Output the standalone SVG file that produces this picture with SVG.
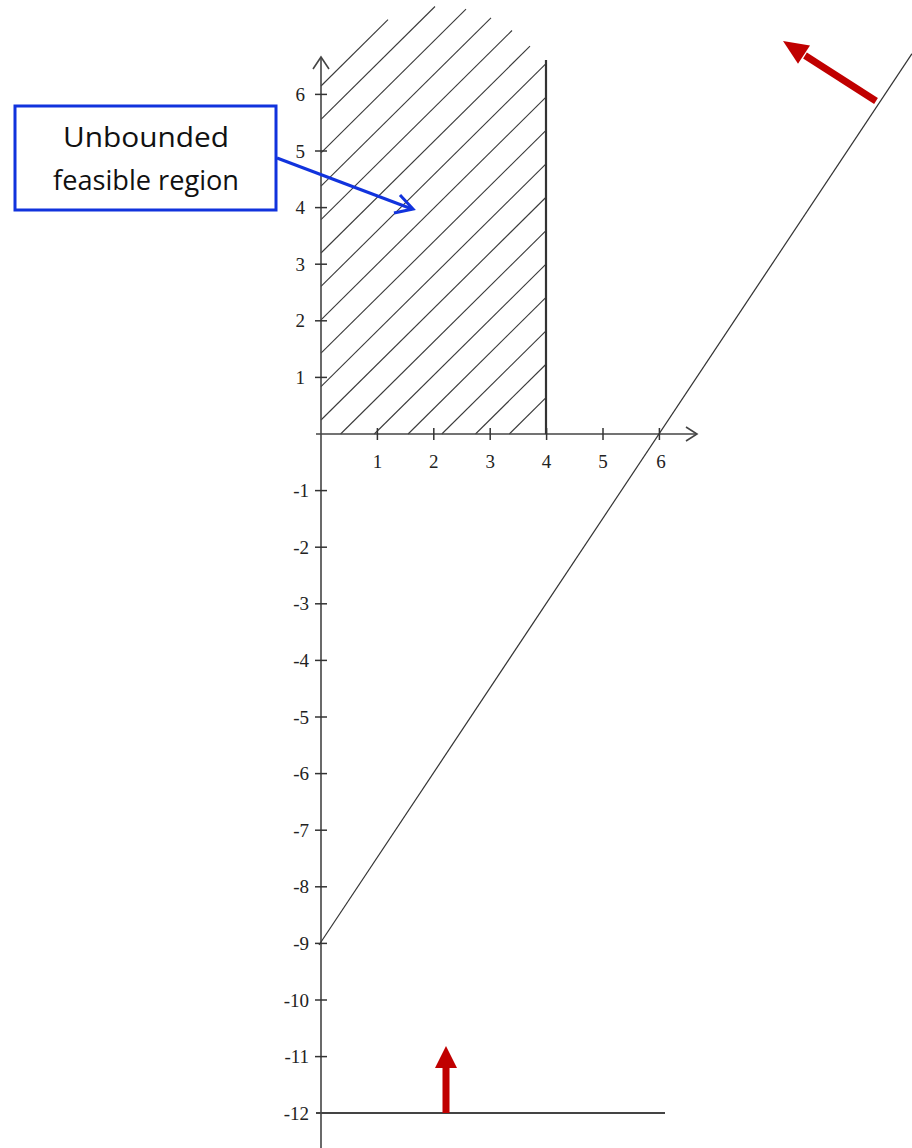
<svg xmlns="http://www.w3.org/2000/svg" width="912" height="1148" viewBox="0 0 912 1148">
<style>
.ax{stroke:#444;stroke-width:1.6;fill:none}
.tk{stroke:#333;stroke-width:1.5}
.h{stroke:#3a3a3a;stroke-width:1.1}
.num{font-family:"Liberation Serif","Times New Roman",serif;font-size:19px;fill:#222}
.lbl{font-family:"Open Sans","Liberation Sans",sans-serif;font-size:27px;fill:#111;text-anchor:middle}
.red{fill:#c00000}
</style>
<rect width="912" height="1148" fill="#fff"/>
<g id="hatching">
<line class="h" x1="321" y1="86" x2="388" y2="19.7"/>
<line class="h" x1="321" y1="119.4" x2="435" y2="6.5"/>
<line class="h" x1="321" y1="152.8" x2="466" y2="9.2"/>
<line class="h" x1="321" y1="186.2" x2="491" y2="17.9"/>
<line class="h" x1="321" y1="219.6" x2="512" y2="30.5"/>
<line class="h" x1="321" y1="253" x2="530" y2="46.1"/>
<line class="h" x1="321" y1="286.4" x2="546" y2="63.65"/>
<line class="h" x1="321" y1="319.8" x2="546" y2="97.05"/>
<line class="h" x1="321" y1="353.2" x2="546" y2="130.45"/>
<line class="h" x1="321" y1="386.6" x2="546" y2="163.85"/>
<line class="h" x1="321" y1="420" x2="546" y2="197.25"/>
<line class="h" x1="340.6" y1="434" x2="546" y2="230.65"/>
<line class="h" x1="374.3" y1="434" x2="546" y2="264.05"/>
<line class="h" x1="408.1" y1="434" x2="546" y2="297.45"/>
<line class="h" x1="441.8" y1="434" x2="546" y2="330.85"/>
<line class="h" x1="475.5" y1="434" x2="546" y2="364.25"/>
<line class="h" x1="509.3" y1="434" x2="546" y2="397.65"/>
</g>
<g id="axes">
<line class="ax" x1="321" y1="57" x2="321" y2="1148"/>
<polyline class="ax" points="313,69 321,57 329,69"/>
<line class="ax" x1="316" y1="434" x2="697" y2="434"/>
<polyline class="ax" points="686,427 697,434 686,441"/>
<line x1="546" y1="60" x2="546" y2="434" stroke="#333" stroke-width="2.2"/>
<line x1="316" y1="1113" x2="665" y2="1113" stroke="#444" stroke-width="2"/>
<line x1="319" y1="945" x2="912" y2="53.7" stroke="#333" stroke-width="1.2"/>
</g>
<g id="ticks">
<line class="tk" x1="377.4" y1="428" x2="377.4" y2="440"/>
<line class="tk" x1="433.8" y1="428" x2="433.8" y2="440"/>
<line class="tk" x1="490.2" y1="428" x2="490.2" y2="440"/>
<line class="tk" x1="546.6" y1="428" x2="546.6" y2="440"/>
<line class="tk" x1="603" y1="428" x2="603" y2="440"/>
<line class="tk" x1="659.4" y1="428" x2="659.4" y2="440"/>
<line class="tk" x1="315" y1="94.4" x2="327" y2="94.4"/>
<line class="tk" x1="315" y1="151" x2="327" y2="151"/>
<line class="tk" x1="315" y1="207.6" x2="327" y2="207.6"/>
<line class="tk" x1="315" y1="264.2" x2="327" y2="264.2"/>
<line class="tk" x1="315" y1="320.8" x2="327" y2="320.8"/>
<line class="tk" x1="315" y1="377.4" x2="327" y2="377.4"/>
<line class="tk" x1="315" y1="490.6" x2="327" y2="490.6"/>
<line class="tk" x1="315" y1="547.2" x2="327" y2="547.2"/>
<line class="tk" x1="315" y1="603.8" x2="327" y2="603.8"/>
<line class="tk" x1="315" y1="660.4" x2="327" y2="660.4"/>
<line class="tk" x1="315" y1="717" x2="327" y2="717"/>
<line class="tk" x1="315" y1="773.6" x2="327" y2="773.6"/>
<line class="tk" x1="315" y1="830.2" x2="327" y2="830.2"/>
<line class="tk" x1="315" y1="886.8" x2="327" y2="886.8"/>
<line class="tk" x1="315" y1="943.4" x2="327" y2="943.4"/>
<line class="tk" x1="315" y1="1000" x2="327" y2="1000"/>
<line class="tk" x1="315" y1="1056.6" x2="327" y2="1056.6"/>
</g>
<g id="xlabels" class="num" text-anchor="middle">
<text x="377.4" y="468">1</text>
<text x="433.8" y="468">2</text>
<text x="490.2" y="468">3</text>
<text x="546.6" y="468">4</text>
<text x="603" y="468">5</text>
<text x="661" y="468">6</text>
</g>
<g id="ylabels" class="num" text-anchor="end">
<text x="305" y="101">6</text>
<text x="305" y="157.6">5</text>
<text x="305" y="214.2">4</text>
<text x="305" y="270.8">3</text>
<text x="305" y="327.4">2</text>
<text x="305" y="384">1</text>
<text x="309" y="497.2">-1</text>
<text x="309" y="553.8">-2</text>
<text x="309" y="610.4">-3</text>
<text x="309" y="667">-4</text>
<text x="309" y="723.6">-5</text>
<text x="309" y="780.2">-6</text>
<text x="309" y="836.8">-7</text>
<text x="309" y="893.4">-8</text>
<text x="309" y="950">-9</text>
<text x="309" y="1006.6">-10</text>
<text x="309" y="1063.2">-11</text>
<text x="309" y="1119.8">-12</text>
</g>
<g id="arrow-top">
<line x1="876" y1="101" x2="805" y2="55.5" stroke="#c00000" stroke-width="7"/>
<polygon class="red" points="783,41 810,45.4 798,63.8"/>
</g>
<g id="arrow-bottom">
<rect class="red" x="442.5" y="1066" width="7" height="47"/>
<polygon class="red" points="446,1046 457,1068 435,1068"/>
</g>
<g id="label">
<rect x="15" y="106" width="261" height="104" fill="#fff" stroke="#1133dd" stroke-width="3"/>
<text class="lbl" x="146" y="147" textLength="166" lengthAdjust="spacingAndGlyphs">Unbounded</text>
<text class="lbl" x="146" y="190" textLength="186" lengthAdjust="spacingAndGlyphs">feasible region</text>
</g>
<g id="connectors">
<line x1="277" y1="158" x2="412" y2="209" stroke="#1133dd" stroke-width="3"/>
<polyline points="400,195 413,209 394,213" fill="none" stroke="#1133dd" stroke-width="3" stroke-linejoin="miter"/>
</g>
</svg>
